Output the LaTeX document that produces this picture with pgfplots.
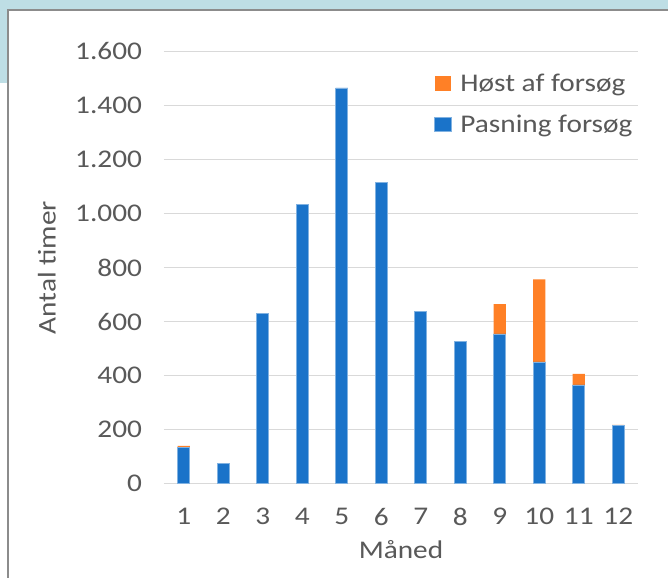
\documentclass[border=0pt]{standalone}
\usepackage{pgfplots}
\pgfplotsset{compat=1.18}
\usepackage{fontspec}
\setmainfont{Carlito}[FakeStretch=1.15]
\definecolor{pasning}{RGB}{26,115,201}
\definecolor{hoest}{RGB}{255,128,38}
\definecolor{gitter}{RGB}{217,217,217}
\definecolor{tekst}{RGB}{89,89,89}
\definecolor{slide}{RGB}{190,222,229}
\definecolor{ramme}{RGB}{140,140,140}
\newcommand{\chartfont}{\fontsize{19.1}{22}\selectfont}

\begin{document}
\begin{tikzpicture}
% fast billedramme (668x578 px, 1 px = 0.75 pt)
\path[use as bounding box] (-123pt,-70.875pt) rectangle (378pt,362.625pt);
\begin{scope}[x=0.75pt,y=0.75pt]
  \fill[white] (-164,-94.5) rectangle (504,483.5);
  \fill[slide] (-164,473.5) rectangle (504,483.5);
  \fill[slide] (-164,400.5) rectangle (-156,483.5);
  \draw[ramme, line width=1.2pt] (-156,-94.5) -- (-156,473.5) -- (504,473.5);
\end{scope}

\begin{axis}[
  scale only axis,
  width=355.5pt, height=324pt,
  ybar stacked,
  bar width=9.2pt,
  xmin=0.5, xmax=12.5,
  ymin=0, ymax=1600,
  xtick={1,...,12},
  ytick={0,200,...,1600},
  ymajorgrids,
  grid style={gitter, line width=1.1pt},
  axis line style={draw=none},
  tick style={draw=none},
  /pgf/number format/assume math mode=true,
  /pgf/number format/1000 sep={.},
  tick label style={font=\chartfont, text=tekst},
  yticklabel style={xshift=-13pt},
  xticklabel style={yshift=-15pt},
  label style={font=\chartfont, text=tekst},
  xlabel={Måned},
  ylabel={Antal timer},
  x label style={at={(axis description cs:0.5,-0.153)}, anchor=center},
  y label style={at={(axis description cs:-0.247,0.5)}, anchor=center},
  reverse legend,
  legend cell align=left,
  legend style={
    at={(0.5696,0.955)}, anchor=north west,
    draw=none, fill=none, inner sep=0pt,
    row sep=12pt, font=\chartfont, text=tekst,
    /tikz/every odd column/.append style={column sep=4.5pt}
  },
  legend image code/.code={\fill[#1] (0pt,-5.5pt) rectangle (12.5pt,5.5pt);},
]
% Pasning forsøg (blå)
\addplot[fill=pasning, draw=pasning!55!white, line width=0.6pt] coordinates {
  (1,133) (2,74) (3,631) (4,1035) (5,1465) (6,1116)
  (7,637) (8,527) (9,554) (10,450) (11,365) (12,214)
};
% Høst af forsøg (orange)
\addplot[fill=hoest, draw=none] coordinates {
  (1,6) (2,0) (3,0) (4,0) (5,0) (6,0)
  (7,0) (8,0) (9,110) (10,306) (11,41) (12,3)
};
\legend{Pasning forsøg, Høst af forsøg}
\end{axis}
\end{tikzpicture}
\end{document}
